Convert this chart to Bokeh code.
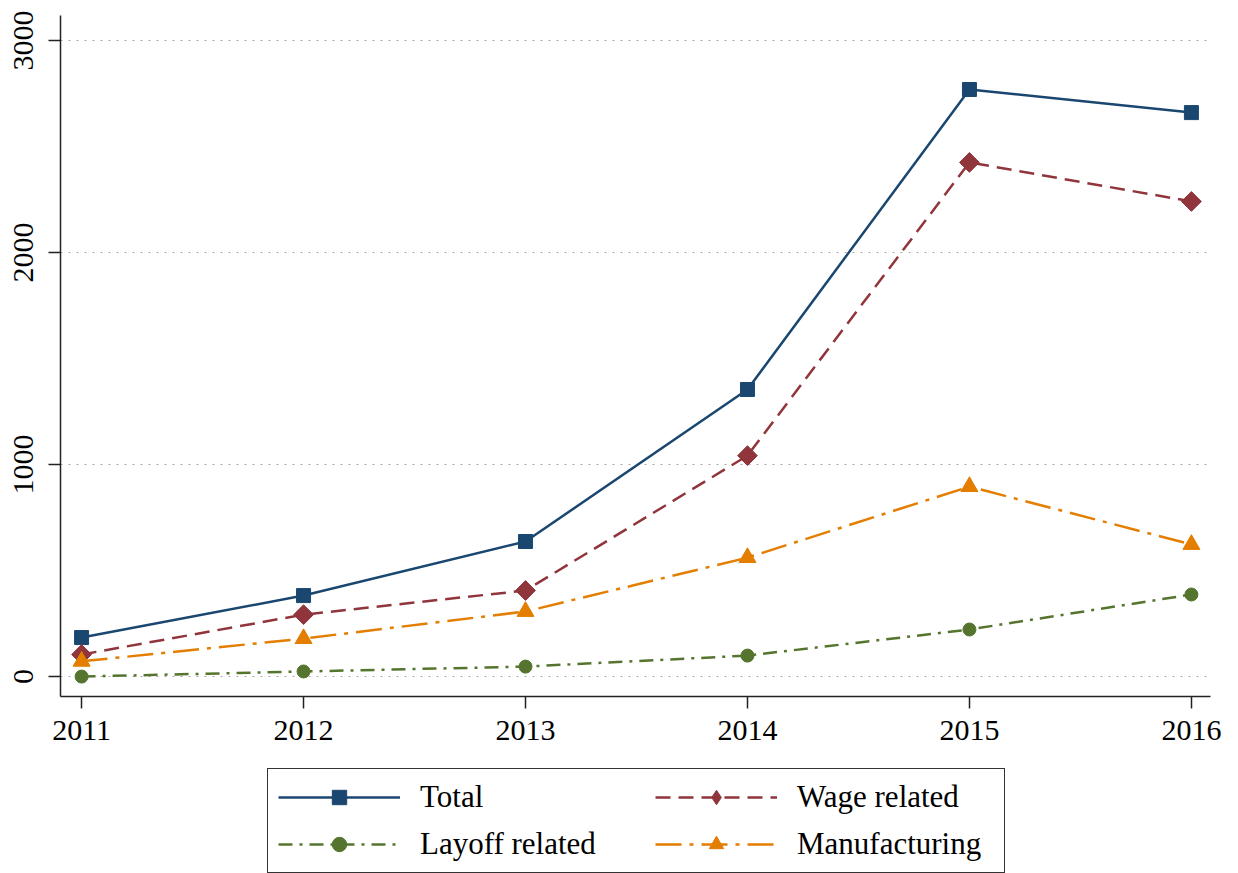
import math
from bokeh.plotting import figure
from bokeh.layouts import column
from bokeh.models import Range1d, Legend, LegendItem, FixedTicker, ColumnDataSource
from bokeh.embed import file_html
from bokeh.resources import INLINE

years = [2011, 2012, 2013, 2014, 2015, 2016]
total = [184, 382, 637, 1354, 2769, 2660]
wage = [104, 292, 406, 1042, 2425, 2241]
layoff = [0, 24, 47, 99, 222, 387]
manufacturing = [72, 179, 307, 561, 896, 623]
y_ticks = [0, 1000, 2000, 3000]
series_labels = ["Total", "Wage related", "Layoff related", "Manufacturing"]
series_cols = ["total", "wage", "layoff", "manu"]

FONT = "Liberation Serif"
NAVY, MAROON, GREEN, ORANGE = "#1a476f", "#90353b", "#55752f", "#e37e00"

STYLES = [
    dict(color=NAVY, dash="solid", marker="square", size=14, angle=0.0, lmarker="square", lsize=14),
    dict(color=MAROON, dash="15 8", marker="square", size=14, angle=math.pi / 4, lmarker="diamond", lsize=22),
    dict(color=GREEN, dash="14 7 3 7", marker="circle", size=13, angle=0.0, lmarker="circle", lsize=13),
    dict(color=ORANGE, dash="26 8 4 8", marker="triangle", size=17, angle=0.0, lmarker="triangle", lsize=17),
]

src = ColumnDataSource(dict(x=years, total=total, wage=wage, layoff=layoff, manu=manufacturing))

# ---------------- main chart ----------------
p = figure(frame_width=1150, frame_height=681, output_backend="svg", toolbar_location=None,
           x_range=Range1d(2010.905, 2016.086), y_range=Range1d(-94, 3118),
           min_border_left=60, min_border_right=28, min_border_top=15, min_border_bottom=60)
p.outline_line_color = None
p.background_fill_color = "white"
p.border_fill_color = "white"

for col, st in zip(series_cols, STYLES):
    p.line("x", col, source=src, line_color=st["color"], line_width=2.5, line_dash=st["dash"])
    p.scatter("x", col, source=src, marker=st["marker"], size=st["size"], angle=st["angle"],
              fill_color=st["color"], line_color=st["color"])

p.xaxis.ticker = FixedTicker(ticks=years)
p.yaxis.ticker = FixedTicker(ticks=y_ticks)
for ax in (p.xaxis[0], p.yaxis[0]):
    ax.axis_line_color = "#222222"
    ax.axis_line_width = 1.5
    ax.major_tick_line_color = "#222222"
    ax.major_tick_line_width = 1.5
    ax.major_tick_out = 12
    ax.major_tick_in = 0
    ax.minor_tick_line_color = None
    ax.major_label_text_font = FONT
    ax.major_label_text_font_size = "30px"
    ax.major_label_text_color = "black"
p.yaxis.major_label_orientation = "vertical"
p.xaxis.major_label_standoff = 12
p.yaxis.major_label_standoff = 15

p.xgrid.grid_line_color = None
p.ygrid.grid_line_color = "#a8a8a8"
p.ygrid.grid_line_dash = "2 6"
p.ygrid.grid_line_width = 1.2

# ---------------- legend strip (same frame columns as the chart) ----------------
LEG_H = 117
q = figure(frame_width=1150, frame_height=LEG_H, output_backend="svg", toolbar_location=None,
           x_axis_type=None, y_axis_type=None, x_range=Range1d(0, 1), y_range=Range1d(0, 1),
           min_border_left=60, min_border_right=28, min_border_top=0, min_border_bottom=0)
q.outline_line_color = None
q.grid.grid_line_color = None
q.background_fill_color = "white"
q.border_fill_color = "white"

items = []
for label, col, st in zip(series_labels, series_cols, STYLES):
    lr = q.line("x", col, source=src, line_color=st["color"], line_width=2.5,
                line_dash=st["dash"], visible=False)
    mr = q.scatter("x", col, source=src, marker=st["lmarker"], size=st["lsize"],
                   fill_color=st["color"], line_color=st["color"], visible=False)
    items.append(LegendItem(label=label, renderers=[lr, mr]))


def style_legend(lg):
    lg.label_text_font = FONT
    lg.label_text_font_size = "31px"
    lg.label_text_color = "black"
    lg.glyph_width = 122
    lg.glyph_height = 36
    lg.label_standoff = 20
    lg.spacing = 11
    lg.padding = 10
    lg.margin = 0
    lg.orientation = "vertical"


legend_a = Legend(items=[items[0], items[2]], location=(207, 0))
style_legend(legend_a)
legend_a.label_width = 574
legend_a.border_line_color = "#333333"
legend_a.border_line_alpha = 1.0
legend_a.border_line_width = 1.5
legend_a.background_fill_color = "white"
legend_a.background_fill_alpha = 1.0

legend_b = Legend(items=[items[1], items[3]], location=(595, 11))
style_legend(legend_b)
legend_b.label_width = 190
legend_b.border_line_color = None
legend_b.background_fill_alpha = 0.0

q.add_layout(legend_a, "center")
q.add_layout(legend_b, "center")

layout = column(p, q, spacing=0)
open("out.html", "w").write(file_html(layout, INLINE))
